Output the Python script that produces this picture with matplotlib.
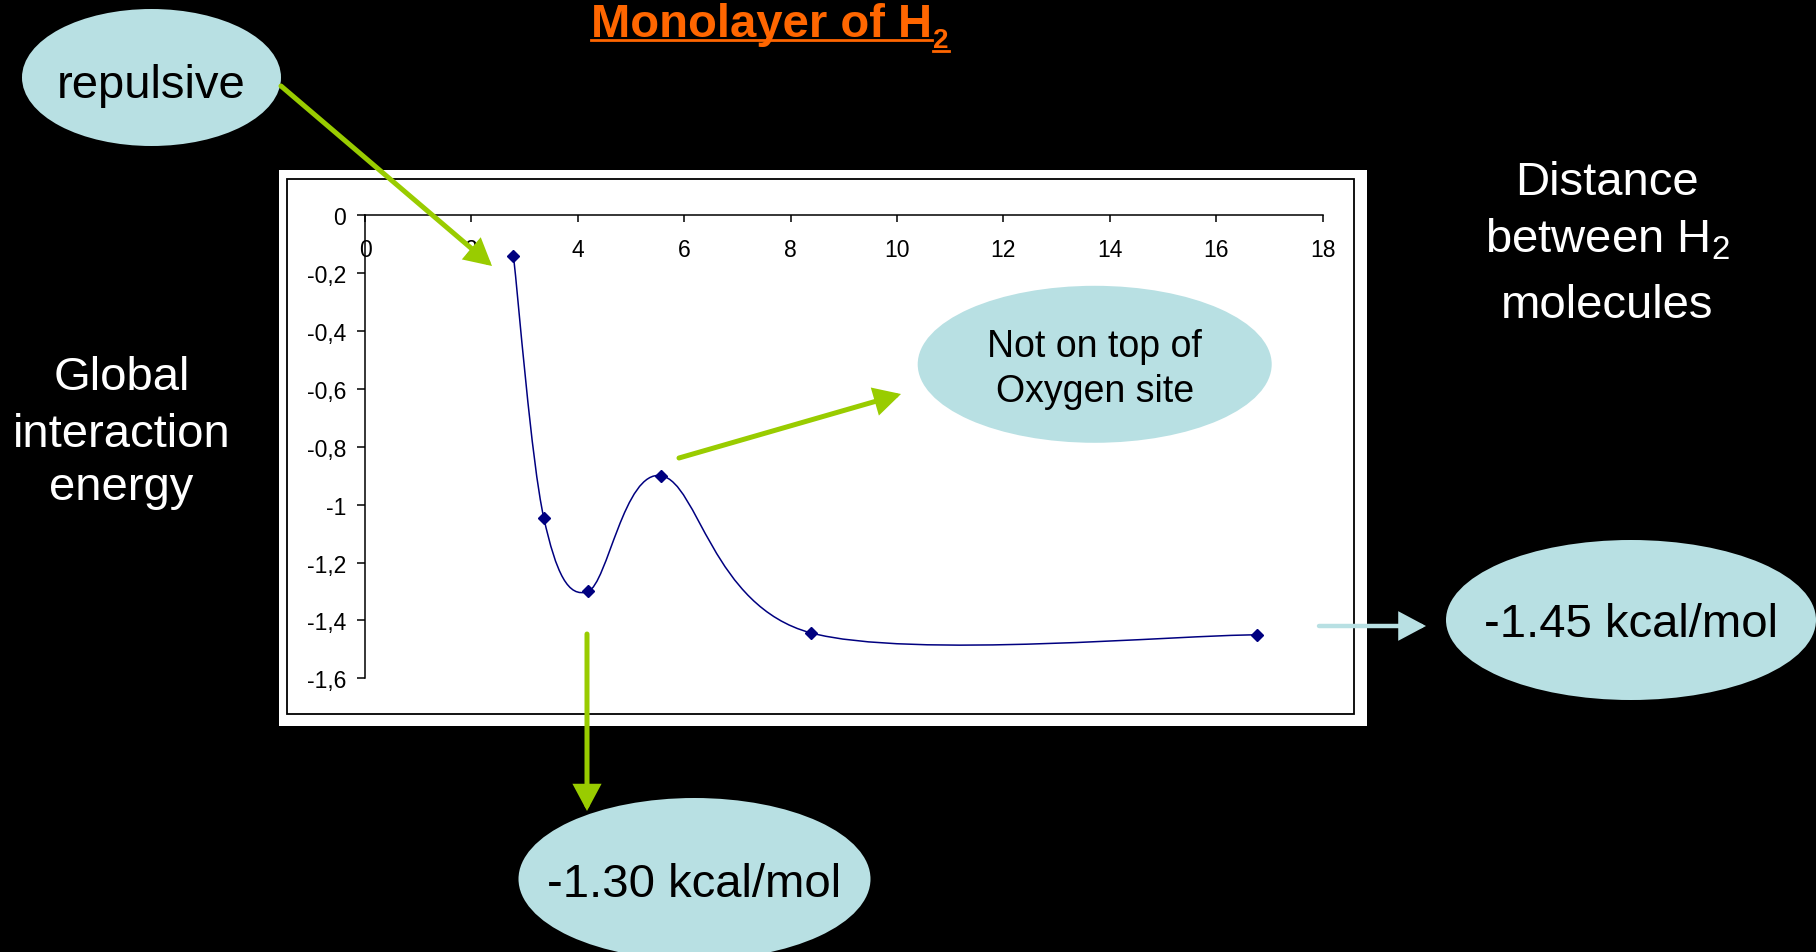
import matplotlib
matplotlib.use("Agg")
import matplotlib.pyplot as plt
from matplotlib.patches import Ellipse, Rectangle, FancyArrowPatch, PathPatch
from matplotlib.path import Path
from matplotlib.ticker import FuncFormatter

plt.rcParams["font.family"] = ["Liberation Sans", "DejaVu Sans"]
plt.rcParams["mathtext.fontset"] = "custom"
plt.rcParams["mathtext.rm"] = "Liberation Sans"
plt.rcParams["mathtext.bf"] = "Liberation Sans:bold"

# data
distance = [2.79, 3.36, 4.19, 5.57, 8.38, 16.76]
energy = [-0.14, -1.045, -1.30, -0.90, -1.443, -1.45]

x_ticks = [0, 2, 4, 6, 8, 10, 12, 14, 16, 18]
y_ticks = [0, -0.2, -0.4, -0.6, -0.8, -1, -1.2, -1.4, -1.6]

W, H = 1816, 953
NAVY = "#000080"
GREEN = "#99CC00"
BUBBLE = "#B8E0E3"
ORANGE = "#FF6600"


def excel_smooth(xs, ys):
    # bezier path like Excel's "smoothed line"
    pts = list(zip(xs, ys))
    n = len(pts)
    verts = [pts[0]]
    codes = [Path.MOVETO]
    for i in range(n - 1):
        p0 = pts[i - 1] if i > 0 else pts[i]
        p1 = pts[i]
        p2 = pts[i + 1]
        p3 = pts[i + 2] if i + 2 < n else pts[i + 1]
        c1 = (p1[0] + (p2[0] - p0[0]) / 6, p1[1] + (p2[1] - p0[1]) / 6)
        c2 = (p2[0] - (p3[0] - p1[0]) / 6, p2[1] - (p3[1] - p1[1]) / 6)
        verts += [c1, c2, p2]
        codes += [Path.CURVE4] * 3
    return Path(verts, codes)


fig = plt.figure(figsize=(W / 100, H / 100), dpi=100, facecolor="black")

# background layer: white chart box
bg = fig.add_axes([0, 0, 1, 1], zorder=0)
bg.set_xlim(0, W)
bg.set_ylim(H, 0)
bg.axis("off")
bg.add_patch(Rectangle((279, 171), 1088, 556, facecolor="white", edgecolor="none"))
bg.add_patch(Rectangle((287, 180), 1067, 535, facecolor="none", edgecolor="black", lw=1.3))

# chart
x0, x1 = 365, 1322.6
y0, y1 = 216.3, 679.3
ax = fig.add_axes([x0 / W, 1 - y1 / H, (x1 - x0) / W, (y1 - y0) / H], zorder=2)
ax.set_facecolor("none")
ax.set_xlim(0, 18)
ax.set_ylim(-1.6, 0)
ax.spines["top"].set_visible(False)
ax.spines["right"].set_visible(False)
ax.spines["bottom"].set_position(("data", 0))
for s in ("left", "bottom"):
    ax.spines[s].set_linewidth(1.1)
    ax.spines[s].set_color("black")

ax.set_xticks(x_ticks)
ax.set_yticks(y_ticks)
fmt = FuncFormatter(lambda v, p: f"{v:g}".replace(".", ","))
ax.xaxis.set_major_formatter(fmt)
ax.yaxis.set_major_formatter(fmt)
ax.tick_params(axis="x", direction="out", length=5, width=1.1, pad=11, labelsize=16.5, colors="black")
ax.tick_params(axis="y", direction="out", length=5.5, width=1.1, pad=8, labelsize=16.5, colors="black")

ax.add_patch(PathPatch(excel_smooth(distance, energy), fill=False, edgecolor=NAVY, lw=1.1, zorder=3))
ax.plot(distance, energy, linestyle="none", marker="D", color=NAVY, markersize=6, clip_on=False, zorder=4)

# overlay layer: bubbles, arrows, labels
ov = fig.add_axes([0, 0, 1, 1], zorder=5)
ov.set_xlim(0, W)
ov.set_ylim(H, 0)
ov.axis("off")
ov.patch.set_visible(False)


def bubble(cx, cy, w, h, lines, size, baselines):
    ov.add_patch(Ellipse((cx, cy), w, h, facecolor=BUBBLE, edgecolor="none"))
    for txt, yb in zip(lines, baselines):
        ov.text(cx, yb, txt, ha="center", va="baseline", fontsize=size, color="black")


def arrow(p_from, p_to, color, lw, hl, hw):
    ov.add_patch(FancyArrowPatch(p_from, p_to, arrowstyle=f"-|>,head_length={hl},head_width={hw}",
                                 mutation_scale=10, color=color, lw=lw,
                                 shrinkA=0, shrinkB=0, joinstyle="miter"))


bubble(151.5, 78.5, 259, 137, ["repulsive"], 34, [98])
bubble(1094.7, 365.3, 354, 157, ["Not on top of", "Oxygen site"], 27, [357.5, 402])
bubble(1631, 621, 370, 160, ["-1.45 kcal/mol"], 34, [637])
bubble(694.5, 880, 352, 162, ["-1.30 kcal/mol"], 34, [897])

arrow((281, 87), (492, 267), GREEN, 3.6, 1.4, 0.75)
arrow((679, 459), (901, 395), GREEN, 3.6, 1.4, 0.75)
arrow((587, 635), (587, 812), GREEN, 3.6, 1.4, 0.75)
arrow((1319, 627), (1426, 627), BUBBLE, 3.2, 1.5, 0.8)

for txt, yb in zip(["Global", "interaction", "energy"], [390, 447, 500]):
    ov.text(121.6, yb, txt, ha="center", va="baseline", fontsize=34, color="white")
for txt, yb in zip(["Distance", "between H$_\\mathrm{2}$", "molecules"], [195, 252, 318]):
    ov.text(1607, yb, txt, ha="center", va="baseline", fontsize=34, color="white")

# underlined title, subscript drawn as its own piece
title = ov.text(591, 37, "Monolayer of H", ha="left", va="baseline",
                fontsize=34, fontweight="bold", color=ORANGE)
fig.canvas.draw()
inv = ov.transData.inverted()
bb = title.get_window_extent().transformed(inv)
sub = ov.text(bb.x1 + 1, 48, "2", ha="left", va="baseline",
              fontsize=20, fontweight="bold", color=ORANGE)
fig.canvas.draw()
bs = sub.get_window_extent().transformed(inv)
ov.plot([bb.x0, bb.x1], [41, 41], color=ORANGE, lw=2)
ov.plot([bs.x0, bs.x1], [52, 52], color=ORANGE, lw=2)

fig.savefig("out.png", dpi=100, facecolor="black")
